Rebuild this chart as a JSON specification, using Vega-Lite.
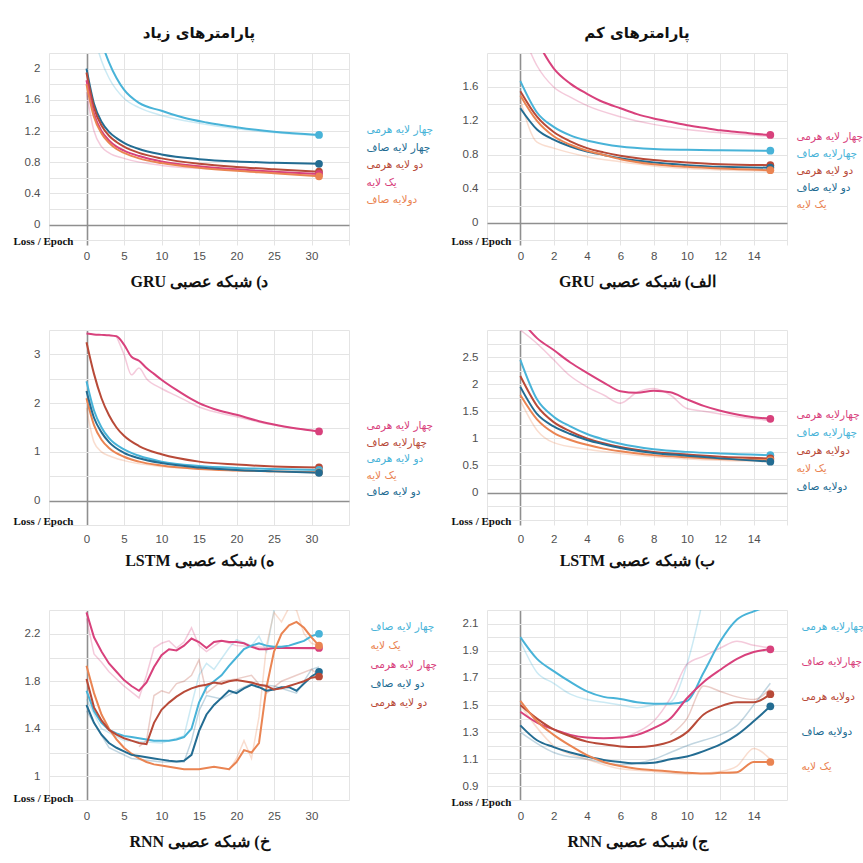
{
"$schema": "https://vega.github.io/schema/vega-lite/v6.json",
"background": "white",
"padding": {"left": 13, "top": 26, "right": 5, "bottom": 5},
"columns": 2,
"spacing": {"row": 85, "column": 138},
"bounds": "flush",
"resolve": {"scale": {"color": "independent", "x": "independent", "y": "independent"}, "legend": {"color": "independent"}},
"datasets": {
"gruH": [
{"run":"چهار لایه هرمی","kind":"smooth","epoch":0,"loss":3.3},{"run":"چهار لایه هرمی","kind":"smooth","epoch":1,"loss":2.75},{"run":"چهار لایه هرمی","kind":"smooth","epoch":2,"loss":2.35},{"run":"چهار لایه هرمی","kind":"smooth","epoch":3,"loss":2.08},{"run":"چهار لایه هرمی","kind":"smooth","epoch":4,"loss":1.88},{"run":"چهار لایه هرمی","kind":"smooth","epoch":5,"loss":1.73},{"run":"چهار لایه هرمی","kind":"smooth","epoch":7,"loss":1.56},{"run":"چهار لایه هرمی","kind":"smooth","epoch":10,"loss":1.46},{"run":"چهار لایه هرمی","kind":"smooth","epoch":13,"loss":1.37},{"run":"چهار لایه هرمی","kind":"smooth","epoch":16,"loss":1.31},{"run":"چهار لایه هرمی","kind":"smooth","epoch":20,"loss":1.25},{"run":"چهار لایه هرمی","kind":"smooth","epoch":25,"loss":1.19},{"run":"چهار لایه هرمی","kind":"smooth","epoch":31,"loss":1.15},
{"run":"چهار لایه هرمی","kind":"raw","epoch":0,"loss":3.0},{"run":"چهار لایه هرمی","kind":"raw","epoch":1,"loss":2.45},{"run":"چهار لایه هرمی","kind":"raw","epoch":2,"loss":2.1},{"run":"چهار لایه هرمی","kind":"raw","epoch":3,"loss":1.88},{"run":"چهار لایه هرمی","kind":"raw","epoch":5,"loss":1.62},{"run":"چهار لایه هرمی","kind":"raw","epoch":7,"loss":1.5},{"run":"چهار لایه هرمی","kind":"raw","epoch":10,"loss":1.4},{"run":"چهار لایه هرمی","kind":"raw","epoch":15,"loss":1.3},{"run":"چهار لایه هرمی","kind":"raw","epoch":20,"loss":1.23},{"run":"چهار لایه هرمی","kind":"raw","epoch":25,"loss":1.18},{"run":"چهار لایه هرمی","kind":"raw","epoch":31,"loss":1.14},
{"run":"چهار لایه صاف","kind":"smooth","epoch":0,"loss":2.0},{"run":"چهار لایه صاف","kind":"smooth","epoch":1,"loss":1.55},{"run":"چهار لایه صاف","kind":"smooth","epoch":2,"loss":1.32},{"run":"چهار لایه صاف","kind":"smooth","epoch":3,"loss":1.19},{"run":"چهار لایه صاف","kind":"smooth","epoch":4,"loss":1.11},{"run":"چهار لایه صاف","kind":"smooth","epoch":5,"loss":1.05},{"run":"چهار لایه صاف","kind":"smooth","epoch":7,"loss":0.97},{"run":"چهار لایه صاف","kind":"smooth","epoch":10,"loss":0.9},{"run":"چهار لایه صاف","kind":"smooth","epoch":15,"loss":0.84},{"run":"چهار لایه صاف","kind":"smooth","epoch":20,"loss":0.81},{"run":"چهار لایه صاف","kind":"smooth","epoch":25,"loss":0.795},{"run":"چهار لایه صاف","kind":"smooth","epoch":31,"loss":0.78},
{"run":"دو لایه هرمی","kind":"smooth","epoch":0,"loss":1.95},{"run":"دو لایه هرمی","kind":"smooth","epoch":1,"loss":1.5},{"run":"دو لایه هرمی","kind":"smooth","epoch":2,"loss":1.27},{"run":"دو لایه هرمی","kind":"smooth","epoch":3,"loss":1.14},{"run":"دو لایه هرمی","kind":"smooth","epoch":4,"loss":1.06},{"run":"دو لایه هرمی","kind":"smooth","epoch":5,"loss":1.0},{"run":"دو لایه هرمی","kind":"smooth","epoch":7,"loss":0.92},{"run":"دو لایه هرمی","kind":"smooth","epoch":10,"loss":0.85},{"run":"دو لایه هرمی","kind":"smooth","epoch":15,"loss":0.78},{"run":"دو لایه هرمی","kind":"smooth","epoch":20,"loss":0.74},{"run":"دو لایه هرمی","kind":"smooth","epoch":25,"loss":0.71},{"run":"دو لایه هرمی","kind":"smooth","epoch":31,"loss":0.68},
{"run":"یک لایه","kind":"smooth","epoch":0,"loss":1.85},{"run":"یک لایه","kind":"smooth","epoch":1,"loss":1.42},{"run":"یک لایه","kind":"smooth","epoch":2,"loss":1.2},{"run":"یک لایه","kind":"smooth","epoch":3,"loss":1.08},{"run":"یک لایه","kind":"smooth","epoch":4,"loss":1.0},{"run":"یک لایه","kind":"smooth","epoch":5,"loss":0.95},{"run":"یک لایه","kind":"smooth","epoch":7,"loss":0.88},{"run":"یک لایه","kind":"smooth","epoch":10,"loss":0.81},{"run":"یک لایه","kind":"smooth","epoch":15,"loss":0.75},{"run":"یک لایه","kind":"smooth","epoch":20,"loss":0.71},{"run":"یک لایه","kind":"smooth","epoch":25,"loss":0.68},{"run":"یک لایه","kind":"smooth","epoch":31,"loss":0.65},
{"run":"یک لایه","kind":"raw","epoch":0,"loss":1.7},{"run":"یک لایه","kind":"raw","epoch":1,"loss":1.2},{"run":"یک لایه","kind":"raw","epoch":2,"loss":1.0},{"run":"یک لایه","kind":"raw","epoch":3,"loss":0.92},{"run":"یک لایه","kind":"raw","epoch":5,"loss":0.85},{"run":"یک لایه","kind":"raw","epoch":10,"loss":0.76},{"run":"یک لایه","kind":"raw","epoch":20,"loss":0.7},{"run":"یک لایه","kind":"raw","epoch":31,"loss":0.63},
{"run":"دولایه صاف","kind":"smooth","epoch":0,"loss":1.8},{"run":"دولایه صاف","kind":"smooth","epoch":1,"loss":1.38},{"run":"دولایه صاف","kind":"smooth","epoch":2,"loss":1.17},{"run":"دولایه صاف","kind":"smooth","epoch":3,"loss":1.05},{"run":"دولایه صاف","kind":"smooth","epoch":4,"loss":0.97},{"run":"دولایه صاف","kind":"smooth","epoch":5,"loss":0.92},{"run":"دولایه صاف","kind":"smooth","epoch":7,"loss":0.85},{"run":"دولایه صاف","kind":"smooth","epoch":10,"loss":0.79},{"run":"دولایه صاف","kind":"smooth","epoch":15,"loss":0.73},{"run":"دولایه صاف","kind":"smooth","epoch":20,"loss":0.69},{"run":"دولایه صاف","kind":"smooth","epoch":25,"loss":0.66},{"run":"دولایه صاف","kind":"smooth","epoch":31,"loss":0.62}
],
"gruL": [
{"run":"چهار لایه هرمی","kind":"smooth","epoch":0,"loss":2.6},{"run":"چهار لایه هرمی","kind":"smooth","epoch":1,"loss":2.15},{"run":"چهار لایه هرمی","kind":"smooth","epoch":2,"loss":1.82},{"run":"چهار لایه هرمی","kind":"smooth","epoch":3,"loss":1.64},{"run":"چهار لایه هرمی","kind":"smooth","epoch":4,"loss":1.52},{"run":"چهار لایه هرمی","kind":"smooth","epoch":5,"loss":1.42},{"run":"چهار لایه هرمی","kind":"smooth","epoch":6,"loss":1.35},{"run":"چهار لایه هرمی","kind":"smooth","epoch":7,"loss":1.28},{"run":"چهار لایه هرمی","kind":"smooth","epoch":8,"loss":1.23},{"run":"چهار لایه هرمی","kind":"smooth","epoch":9,"loss":1.19},{"run":"چهار لایه هرمی","kind":"smooth","epoch":10,"loss":1.15},{"run":"چهار لایه هرمی","kind":"smooth","epoch":11,"loss":1.12},{"run":"چهار لایه هرمی","kind":"smooth","epoch":12,"loss":1.09},{"run":"چهار لایه هرمی","kind":"smooth","epoch":13,"loss":1.07},{"run":"چهار لایه هرمی","kind":"smooth","epoch":14,"loss":1.05},{"run":"چهار لایه هرمی","kind":"smooth","epoch":15,"loss":1.035},
{"run":"چهار لایه هرمی","kind":"raw","epoch":0,"loss":2.3},{"run":"چهار لایه هرمی","kind":"raw","epoch":1,"loss":1.85},{"run":"چهار لایه هرمی","kind":"raw","epoch":2,"loss":1.6},{"run":"چهار لایه هرمی","kind":"raw","epoch":3,"loss":1.48},{"run":"چهار لایه هرمی","kind":"raw","epoch":4,"loss":1.38},{"run":"چهار لایه هرمی","kind":"raw","epoch":6,"loss":1.25},{"run":"چهار لایه هرمی","kind":"raw","epoch":8,"loss":1.16},{"run":"چهار لایه هرمی","kind":"raw","epoch":10,"loss":1.1},{"run":"چهار لایه هرمی","kind":"raw","epoch":12,"loss":1.06},{"run":"چهار لایه هرمی","kind":"raw","epoch":15,"loss":1.02},
{"run":"چهارلایه صاف","kind":"smooth","epoch":0,"loss":1.67},{"run":"چهارلایه صاف","kind":"smooth","epoch":1,"loss":1.3},{"run":"چهارلایه صاف","kind":"smooth","epoch":2,"loss":1.13},{"run":"چهارلایه صاف","kind":"smooth","epoch":3,"loss":1.03},{"run":"چهارلایه صاف","kind":"smooth","epoch":4,"loss":0.97},{"run":"چهارلایه صاف","kind":"smooth","epoch":5,"loss":0.93},{"run":"چهارلایه صاف","kind":"smooth","epoch":6,"loss":0.9},{"run":"چهارلایه صاف","kind":"smooth","epoch":8,"loss":0.87},{"run":"چهارلایه صاف","kind":"smooth","epoch":10,"loss":0.86},{"run":"چهارلایه صاف","kind":"smooth","epoch":12,"loss":0.855},{"run":"چهارلایه صاف","kind":"smooth","epoch":15,"loss":0.85},
{"run":"دو لایه هرمی","kind":"smooth","epoch":0,"loss":1.55},{"run":"دو لایه هرمی","kind":"smooth","epoch":1,"loss":1.25},{"run":"دو لایه هرمی","kind":"smooth","epoch":2,"loss":1.07},{"run":"دو لایه هرمی","kind":"smooth","epoch":3,"loss":0.96},{"run":"دو لایه هرمی","kind":"smooth","epoch":4,"loss":0.88},{"run":"دو لایه هرمی","kind":"smooth","epoch":5,"loss":0.83},{"run":"دو لایه هرمی","kind":"smooth","epoch":6,"loss":0.79},{"run":"دو لایه هرمی","kind":"smooth","epoch":8,"loss":0.74},{"run":"دو لایه هرمی","kind":"smooth","epoch":10,"loss":0.71},{"run":"دو لایه هرمی","kind":"smooth","epoch":12,"loss":0.69},{"run":"دو لایه هرمی","kind":"smooth","epoch":15,"loss":0.68},
{"run":"دو لایه صاف","kind":"smooth","epoch":0,"loss":1.35},{"run":"دو لایه صاف","kind":"smooth","epoch":1,"loss":1.1},{"run":"دو لایه صاف","kind":"smooth","epoch":2,"loss":0.98},{"run":"دو لایه صاف","kind":"smooth","epoch":3,"loss":0.9},{"run":"دو لایه صاف","kind":"smooth","epoch":4,"loss":0.84},{"run":"دو لایه صاف","kind":"smooth","epoch":5,"loss":0.8},{"run":"دو لایه صاف","kind":"smooth","epoch":6,"loss":0.76},{"run":"دو لایه صاف","kind":"smooth","epoch":8,"loss":0.71},{"run":"دو لایه صاف","kind":"smooth","epoch":10,"loss":0.68},{"run":"دو لایه صاف","kind":"smooth","epoch":12,"loss":0.66},{"run":"دو لایه صاف","kind":"smooth","epoch":15,"loss":0.65},
{"run":"یک لایه","kind":"smooth","epoch":0,"loss":1.5},{"run":"یک لایه","kind":"smooth","epoch":1,"loss":1.2},{"run":"یک لایه","kind":"smooth","epoch":2,"loss":1.02},{"run":"یک لایه","kind":"smooth","epoch":3,"loss":0.92},{"run":"یک لایه","kind":"smooth","epoch":4,"loss":0.85},{"run":"یک لایه","kind":"smooth","epoch":5,"loss":0.8},{"run":"یک لایه","kind":"smooth","epoch":6,"loss":0.75},{"run":"یک لایه","kind":"smooth","epoch":8,"loss":0.69},{"run":"یک لایه","kind":"smooth","epoch":10,"loss":0.66},{"run":"یک لایه","kind":"smooth","epoch":12,"loss":0.64},{"run":"یک لایه","kind":"smooth","epoch":15,"loss":0.62},
{"run":"یک لایه","kind":"raw","epoch":0,"loss":1.45},{"run":"یک لایه","kind":"raw","epoch":1,"loss":0.95},{"run":"یک لایه","kind":"raw","epoch":2,"loss":0.88},{"run":"یک لایه","kind":"raw","epoch":4,"loss":0.78},{"run":"یک لایه","kind":"raw","epoch":6,"loss":0.72},{"run":"یک لایه","kind":"raw","epoch":8,"loss":0.67},{"run":"یک لایه","kind":"raw","epoch":10,"loss":0.64},{"run":"یک لایه","kind":"raw","epoch":15,"loss":0.61}
],
"lstmH": [
{"run":"چهار لایه هرمی","kind":"smooth","epoch":0,"loss":3.43},{"run":"چهار لایه هرمی","kind":"smooth","epoch":1,"loss":3.41},{"run":"چهار لایه هرمی","kind":"smooth","epoch":2,"loss":3.4},{"run":"چهار لایه هرمی","kind":"smooth","epoch":3,"loss":3.39},{"run":"چهار لایه هرمی","kind":"smooth","epoch":4,"loss":3.37},{"run":"چهار لایه هرمی","kind":"smooth","epoch":5,"loss":3.2},{"run":"چهار لایه هرمی","kind":"smooth","epoch":6,"loss":2.95},{"run":"چهار لایه هرمی","kind":"smooth","epoch":7,"loss":2.87},{"run":"چهار لایه هرمی","kind":"smooth","epoch":8,"loss":2.72},{"run":"چهار لایه هرمی","kind":"smooth","epoch":9,"loss":2.6},{"run":"چهار لایه هرمی","kind":"smooth","epoch":10,"loss":2.48},{"run":"چهار لایه هرمی","kind":"smooth","epoch":12,"loss":2.27},{"run":"چهار لایه هرمی","kind":"smooth","epoch":14,"loss":2.08},{"run":"چهار لایه هرمی","kind":"smooth","epoch":15,"loss":2.0},{"run":"چهار لایه هرمی","kind":"smooth","epoch":17,"loss":1.88},{"run":"چهار لایه هرمی","kind":"smooth","epoch":20,"loss":1.76},{"run":"چهار لایه هرمی","kind":"smooth","epoch":23,"loss":1.63},{"run":"چهار لایه هرمی","kind":"smooth","epoch":25,"loss":1.56},{"run":"چهار لایه هرمی","kind":"smooth","epoch":28,"loss":1.48},{"run":"چهار لایه هرمی","kind":"smooth","epoch":31,"loss":1.42},
{"run":"چهار لایه هرمی","kind":"raw","epoch":4,"loss":3.37},{"run":"چهار لایه هرمی","kind":"raw","epoch":5,"loss":3.0},{"run":"چهار لایه هرمی","kind":"raw","epoch":6,"loss":2.58},{"run":"چهار لایه هرمی","kind":"raw","epoch":7,"loss":2.72},{"run":"چهار لایه هرمی","kind":"raw","epoch":8,"loss":2.5},{"run":"چهار لایه هرمی","kind":"raw","epoch":10,"loss":2.3},{"run":"چهار لایه هرمی","kind":"raw","epoch":12,"loss":2.15},{"run":"چهار لایه هرمی","kind":"raw","epoch":15,"loss":1.92},{"run":"چهار لایه هرمی","kind":"raw","epoch":20,"loss":1.72},{"run":"چهار لایه هرمی","kind":"raw","epoch":25,"loss":1.55},{"run":"چهار لایه هرمی","kind":"raw","epoch":31,"loss":1.42},
{"run":"چهارلایه صاف","kind":"smooth","epoch":0,"loss":3.25},{"run":"چهارلایه صاف","kind":"smooth","epoch":1,"loss":2.6},{"run":"چهارلایه صاف","kind":"smooth","epoch":2,"loss":2.1},{"run":"چهارلایه صاف","kind":"smooth","epoch":3,"loss":1.75},{"run":"چهارلایه صاف","kind":"smooth","epoch":4,"loss":1.5},{"run":"چهارلایه صاف","kind":"smooth","epoch":5,"loss":1.33},{"run":"چهارلایه صاف","kind":"smooth","epoch":7,"loss":1.12},{"run":"چهارلایه صاف","kind":"smooth","epoch":10,"loss":0.95},{"run":"چهارلایه صاف","kind":"smooth","epoch":15,"loss":0.8},{"run":"چهارلایه صاف","kind":"smooth","epoch":20,"loss":0.74},{"run":"چهارلایه صاف","kind":"smooth","epoch":25,"loss":0.7},{"run":"چهارلایه صاف","kind":"smooth","epoch":31,"loss":0.68},
{"run":"دو لایه هرمی","kind":"smooth","epoch":0,"loss":2.45},{"run":"دو لایه هرمی","kind":"smooth","epoch":1,"loss":1.85},{"run":"دو لایه هرمی","kind":"smooth","epoch":2,"loss":1.5},{"run":"دو لایه هرمی","kind":"smooth","epoch":3,"loss":1.28},{"run":"دو لایه هرمی","kind":"smooth","epoch":5,"loss":1.05},{"run":"دو لایه هرمی","kind":"smooth","epoch":7,"loss":0.92},{"run":"دو لایه هرمی","kind":"smooth","epoch":10,"loss":0.8},{"run":"دو لایه هرمی","kind":"smooth","epoch":15,"loss":0.71},{"run":"دو لایه هرمی","kind":"smooth","epoch":20,"loss":0.67},{"run":"دو لایه هرمی","kind":"smooth","epoch":25,"loss":0.65},{"run":"دو لایه هرمی","kind":"smooth","epoch":31,"loss":0.63},
{"run":"یک لایه","kind":"smooth","epoch":0,"loss":2.1},{"run":"یک لایه","kind":"smooth","epoch":1,"loss":1.55},{"run":"یک لایه","kind":"smooth","epoch":2,"loss":1.25},{"run":"یک لایه","kind":"smooth","epoch":3,"loss":1.08},{"run":"یک لایه","kind":"smooth","epoch":5,"loss":0.9},{"run":"یک لایه","kind":"smooth","epoch":7,"loss":0.8},{"run":"یک لایه","kind":"smooth","epoch":10,"loss":0.72},{"run":"یک لایه","kind":"smooth","epoch":15,"loss":0.65},{"run":"یک لایه","kind":"smooth","epoch":20,"loss":0.62},{"run":"یک لایه","kind":"smooth","epoch":25,"loss":0.6},{"run":"یک لایه","kind":"smooth","epoch":31,"loss":0.58},
{"run":"یک لایه","kind":"raw","epoch":0,"loss":1.9},{"run":"یک لایه","kind":"raw","epoch":1,"loss":1.2},{"run":"یک لایه","kind":"raw","epoch":2,"loss":1.0},{"run":"یک لایه","kind":"raw","epoch":3,"loss":0.92},{"run":"یک لایه","kind":"raw","epoch":5,"loss":0.82},{"run":"یک لایه","kind":"raw","epoch":10,"loss":0.7},{"run":"یک لایه","kind":"raw","epoch":20,"loss":0.62},{"run":"یک لایه","kind":"raw","epoch":31,"loss":0.57},
{"run":"دو لایه صاف","kind":"smooth","epoch":0,"loss":2.25},{"run":"دو لایه صاف","kind":"smooth","epoch":1,"loss":1.7},{"run":"دو لایه صاف","kind":"smooth","epoch":2,"loss":1.4},{"run":"دو لایه صاف","kind":"smooth","epoch":3,"loss":1.2},{"run":"دو لایه صاف","kind":"smooth","epoch":5,"loss":0.98},{"run":"دو لایه صاف","kind":"smooth","epoch":7,"loss":0.87},{"run":"دو لایه صاف","kind":"smooth","epoch":10,"loss":0.77},{"run":"دو لایه صاف","kind":"smooth","epoch":15,"loss":0.68},{"run":"دو لایه صاف","kind":"smooth","epoch":20,"loss":0.63},{"run":"دو لایه صاف","kind":"smooth","epoch":25,"loss":0.6},{"run":"دو لایه صاف","kind":"smooth","epoch":31,"loss":0.57}
],
"lstmL": [
{"run":"چهارلایه هرمی","kind":"smooth","epoch":0,"loss":3.2},{"run":"چهارلایه هرمی","kind":"smooth","epoch":1,"loss":2.85},{"run":"چهارلایه هرمی","kind":"smooth","epoch":2,"loss":2.63},{"run":"چهارلایه هرمی","kind":"smooth","epoch":3,"loss":2.4},{"run":"چهارلایه هرمی","kind":"smooth","epoch":4,"loss":2.21},{"run":"چهارلایه هرمی","kind":"smooth","epoch":5,"loss":2.03},{"run":"چهارلایه هرمی","kind":"smooth","epoch":6,"loss":1.87},{"run":"چهارلایه هرمی","kind":"smooth","epoch":7,"loss":1.84},{"run":"چهارلایه هرمی","kind":"smooth","epoch":8,"loss":1.88},{"run":"چهارلایه هرمی","kind":"smooth","epoch":9,"loss":1.85},{"run":"چهارلایه هرمی","kind":"smooth","epoch":10,"loss":1.72},{"run":"چهارلایه هرمی","kind":"smooth","epoch":11,"loss":1.6},{"run":"چهارلایه هرمی","kind":"smooth","epoch":12,"loss":1.51},{"run":"چهارلایه هرمی","kind":"smooth","epoch":13,"loss":1.44},{"run":"چهارلایه هرمی","kind":"smooth","epoch":14,"loss":1.39},{"run":"چهارلایه هرمی","kind":"smooth","epoch":15,"loss":1.36},
{"run":"چهارلایه هرمی","kind":"raw","epoch":0,"loss":3.0},{"run":"چهارلایه هرمی","kind":"raw","epoch":1,"loss":2.75},{"run":"چهارلایه هرمی","kind":"raw","epoch":2,"loss":2.45},{"run":"چهارلایه هرمی","kind":"raw","epoch":3,"loss":2.15},{"run":"چهارلایه هرمی","kind":"raw","epoch":4,"loss":1.95},{"run":"چهارلایه هرمی","kind":"raw","epoch":5,"loss":1.8},{"run":"چهارلایه هرمی","kind":"raw","epoch":6,"loss":1.65},{"run":"چهارلایه هرمی","kind":"raw","epoch":7,"loss":1.85},{"run":"چهارلایه هرمی","kind":"raw","epoch":8,"loss":1.92},{"run":"چهارلایه هرمی","kind":"raw","epoch":9,"loss":1.8},{"run":"چهارلایه هرمی","kind":"raw","epoch":10,"loss":1.55},{"run":"چهارلایه هرمی","kind":"raw","epoch":11,"loss":1.5},{"run":"چهارلایه هرمی","kind":"raw","epoch":12,"loss":1.45},{"run":"چهارلایه هرمی","kind":"raw","epoch":13,"loss":1.4},{"run":"چهارلایه هرمی","kind":"raw","epoch":15,"loss":1.33},
{"run":"چهارلایه صاف","kind":"smooth","epoch":0,"loss":2.45},{"run":"چهارلایه صاف","kind":"smooth","epoch":1,"loss":1.72},{"run":"چهارلایه صاف","kind":"smooth","epoch":2,"loss":1.4},{"run":"چهارلایه صاف","kind":"smooth","epoch":3,"loss":1.22},{"run":"چهارلایه صاف","kind":"smooth","epoch":4,"loss":1.08},{"run":"چهارلایه صاف","kind":"smooth","epoch":5,"loss":0.98},{"run":"چهارلایه صاف","kind":"smooth","epoch":6,"loss":0.9},{"run":"چهارلایه صاف","kind":"smooth","epoch":8,"loss":0.8},{"run":"چهارلایه صاف","kind":"smooth","epoch":10,"loss":0.75},{"run":"چهارلایه صاف","kind":"smooth","epoch":12,"loss":0.72},{"run":"چهارلایه صاف","kind":"smooth","epoch":15,"loss":0.69},
{"run":"دولایه هرمی","kind":"smooth","epoch":0,"loss":2.15},{"run":"دولایه هرمی","kind":"smooth","epoch":1,"loss":1.6},{"run":"دولایه هرمی","kind":"smooth","epoch":2,"loss":1.3},{"run":"دولایه هرمی","kind":"smooth","epoch":3,"loss":1.13},{"run":"دولایه هرمی","kind":"smooth","epoch":4,"loss":1.0},{"run":"دولایه هرمی","kind":"smooth","epoch":5,"loss":0.91},{"run":"دولایه هرمی","kind":"smooth","epoch":6,"loss":0.84},{"run":"دولایه هرمی","kind":"smooth","epoch":8,"loss":0.75},{"run":"دولایه هرمی","kind":"smooth","epoch":10,"loss":0.7},{"run":"دولایه هرمی","kind":"smooth","epoch":12,"loss":0.66},{"run":"دولایه هرمی","kind":"smooth","epoch":15,"loss":0.63},
{"run":"یک لایه","kind":"smooth","epoch":0,"loss":1.8},{"run":"یک لایه","kind":"smooth","epoch":1,"loss":1.35},{"run":"یک لایه","kind":"smooth","epoch":2,"loss":1.1},{"run":"یک لایه","kind":"smooth","epoch":3,"loss":0.97},{"run":"یک لایه","kind":"smooth","epoch":4,"loss":0.88},{"run":"یک لایه","kind":"smooth","epoch":5,"loss":0.81},{"run":"یک لایه","kind":"smooth","epoch":6,"loss":0.76},{"run":"یک لایه","kind":"smooth","epoch":8,"loss":0.69},{"run":"یک لایه","kind":"smooth","epoch":10,"loss":0.65},{"run":"یک لایه","kind":"smooth","epoch":12,"loss":0.62},{"run":"یک لایه","kind":"smooth","epoch":15,"loss":0.6},
{"run":"یک لایه","kind":"raw","epoch":0,"loss":1.7},{"run":"یک لایه","kind":"raw","epoch":1,"loss":1.15},{"run":"یک لایه","kind":"raw","epoch":2,"loss":0.92},{"run":"یک لایه","kind":"raw","epoch":4,"loss":0.8},{"run":"یک لایه","kind":"raw","epoch":6,"loss":0.72},{"run":"یک لایه","kind":"raw","epoch":8,"loss":0.66},{"run":"یک لایه","kind":"raw","epoch":10,"loss":0.62},{"run":"یک لایه","kind":"raw","epoch":15,"loss":0.57},
{"run":"دولایه صاف","kind":"smooth","epoch":0,"loss":1.95},{"run":"دولایه صاف","kind":"smooth","epoch":1,"loss":1.45},{"run":"دولایه صاف","kind":"smooth","epoch":2,"loss":1.22},{"run":"دولایه صاف","kind":"smooth","epoch":3,"loss":1.08},{"run":"دولایه صاف","kind":"smooth","epoch":4,"loss":0.97},{"run":"دولایه صاف","kind":"smooth","epoch":5,"loss":0.89},{"run":"دولایه صاف","kind":"smooth","epoch":6,"loss":0.82},{"run":"دولایه صاف","kind":"smooth","epoch":8,"loss":0.73},{"run":"دولایه صاف","kind":"smooth","epoch":10,"loss":0.68},{"run":"دولایه صاف","kind":"smooth","epoch":12,"loss":0.63},{"run":"دولایه صاف","kind":"smooth","epoch":15,"loss":0.57}
],
"rnnH": [
{"run":"چهار لایه هرمی","kind":"smooth","epoch":0,"loss":2.38},{"run":"چهار لایه هرمی","kind":"smooth","epoch":1,"loss":2.17},{"run":"چهار لایه هرمی","kind":"smooth","epoch":2,"loss":2.05},{"run":"چهار لایه هرمی","kind":"smooth","epoch":3,"loss":1.95},{"run":"چهار لایه هرمی","kind":"smooth","epoch":4,"loss":1.88},{"run":"چهار لایه هرمی","kind":"smooth","epoch":5,"loss":1.81},{"run":"چهار لایه هرمی","kind":"smooth","epoch":6,"loss":1.76},{"run":"چهار لایه هرمی","kind":"smooth","epoch":7,"loss":1.72},{"run":"چهار لایه هرمی","kind":"smooth","epoch":8,"loss":1.79},{"run":"چهار لایه هرمی","kind":"smooth","epoch":9,"loss":1.92},{"run":"چهار لایه هرمی","kind":"smooth","epoch":10,"loss":2.02},{"run":"چهار لایه هرمی","kind":"smooth","epoch":11,"loss":2.07},{"run":"چهار لایه هرمی","kind":"smooth","epoch":12,"loss":2.06},{"run":"چهار لایه هرمی","kind":"smooth","epoch":13,"loss":2.1},{"run":"چهار لایه هرمی","kind":"smooth","epoch":14,"loss":2.16},{"run":"چهار لایه هرمی","kind":"smooth","epoch":15,"loss":2.13},{"run":"چهار لایه هرمی","kind":"smooth","epoch":16,"loss":2.08},{"run":"چهار لایه هرمی","kind":"smooth","epoch":17,"loss":2.13},{"run":"چهار لایه هرمی","kind":"smooth","epoch":18,"loss":2.14},{"run":"چهار لایه هرمی","kind":"smooth","epoch":19,"loss":2.13},{"run":"چهار لایه هرمی","kind":"smooth","epoch":20,"loss":2.13},{"run":"چهار لایه هرمی","kind":"smooth","epoch":21,"loss":2.12},{"run":"چهار لایه هرمی","kind":"smooth","epoch":22,"loss":2.09},{"run":"چهار لایه هرمی","kind":"smooth","epoch":23,"loss":2.07},{"run":"چهار لایه هرمی","kind":"smooth","epoch":24,"loss":2.07},{"run":"چهار لایه هرمی","kind":"smooth","epoch":25,"loss":2.08},{"run":"چهار لایه هرمی","kind":"smooth","epoch":26,"loss":2.08},{"run":"چهار لایه هرمی","kind":"smooth","epoch":27,"loss":2.08},{"run":"چهار لایه هرمی","kind":"smooth","epoch":28,"loss":2.08},{"run":"چهار لایه هرمی","kind":"smooth","epoch":29,"loss":2.08},{"run":"چهار لایه هرمی","kind":"smooth","epoch":30,"loss":2.08},{"run":"چهار لایه هرمی","kind":"smooth","epoch":31,"loss":2.08},
{"run":"چهار لایه هرمی","kind":"raw","epoch":0,"loss":2.33},{"run":"چهار لایه هرمی","kind":"raw","epoch":1,"loss":2.03},{"run":"چهار لایه هرمی","kind":"raw","epoch":2,"loss":1.96},{"run":"چهار لایه هرمی","kind":"raw","epoch":3,"loss":1.88},{"run":"چهار لایه هرمی","kind":"raw","epoch":5,"loss":1.76},{"run":"چهار لایه هرمی","kind":"raw","epoch":7,"loss":1.66},{"run":"چهار لایه هرمی","kind":"raw","epoch":8,"loss":1.85},{"run":"چهار لایه هرمی","kind":"raw","epoch":9,"loss":2.08},{"run":"چهار لایه هرمی","kind":"raw","epoch":10,"loss":2.12},{"run":"چهار لایه هرمی","kind":"raw","epoch":11,"loss":2.14},{"run":"چهار لایه هرمی","kind":"raw","epoch":12,"loss":2.08},{"run":"چهار لایه هرمی","kind":"raw","epoch":13,"loss":2.13},{"run":"چهار لایه هرمی","kind":"raw","epoch":14,"loss":2.25},{"run":"چهار لایه هرمی","kind":"raw","epoch":15,"loss":2.1},{"run":"چهار لایه هرمی","kind":"raw","epoch":16,"loss":2.05},{"run":"چهار لایه هرمی","kind":"raw","epoch":18,"loss":2.14},{"run":"چهار لایه هرمی","kind":"raw","epoch":20,"loss":2.1},{"run":"چهار لایه هرمی","kind":"raw","epoch":25,"loss":2.08},{"run":"چهار لایه هرمی","kind":"raw","epoch":31,"loss":2.07},
{"run":"چهار لایه صاف","kind":"smooth","epoch":0,"loss":1.72},{"run":"چهار لایه صاف","kind":"smooth","epoch":1,"loss":1.55},{"run":"چهار لایه صاف","kind":"smooth","epoch":2,"loss":1.45},{"run":"چهار لایه صاف","kind":"smooth","epoch":3,"loss":1.39},{"run":"چهار لایه صاف","kind":"smooth","epoch":4,"loss":1.36},{"run":"چهار لایه صاف","kind":"smooth","epoch":5,"loss":1.34},{"run":"چهار لایه صاف","kind":"smooth","epoch":6,"loss":1.33},{"run":"چهار لایه صاف","kind":"smooth","epoch":7,"loss":1.32},{"run":"چهار لایه صاف","kind":"smooth","epoch":8,"loss":1.31},{"run":"چهار لایه صاف","kind":"smooth","epoch":9,"loss":1.3},{"run":"چهار لایه صاف","kind":"smooth","epoch":10,"loss":1.3},{"run":"چهار لایه صاف","kind":"smooth","epoch":11,"loss":1.3},{"run":"چهار لایه صاف","kind":"smooth","epoch":12,"loss":1.31},{"run":"چهار لایه صاف","kind":"smooth","epoch":13,"loss":1.33},{"run":"چهار لایه صاف","kind":"smooth","epoch":14,"loss":1.4},{"run":"چهار لایه صاف","kind":"smooth","epoch":15,"loss":1.62},{"run":"چهار لایه صاف","kind":"smooth","epoch":16,"loss":1.75},{"run":"چهار لایه صاف","kind":"smooth","epoch":17,"loss":1.8},{"run":"چهار لایه صاف","kind":"smooth","epoch":18,"loss":1.85},{"run":"چهار لایه صاف","kind":"smooth","epoch":19,"loss":1.93},{"run":"چهار لایه صاف","kind":"smooth","epoch":20,"loss":2.0},{"run":"چهار لایه صاف","kind":"smooth","epoch":21,"loss":2.07},{"run":"چهار لایه صاف","kind":"smooth","epoch":22,"loss":2.1},{"run":"چهار لایه صاف","kind":"smooth","epoch":23,"loss":2.12},{"run":"چهار لایه صاف","kind":"smooth","epoch":24,"loss":2.1},{"run":"چهار لایه صاف","kind":"smooth","epoch":25,"loss":2.09},{"run":"چهار لایه صاف","kind":"smooth","epoch":26,"loss":2.09},{"run":"چهار لایه صاف","kind":"smooth","epoch":27,"loss":2.1},{"run":"چهار لایه صاف","kind":"smooth","epoch":28,"loss":2.12},{"run":"چهار لایه صاف","kind":"smooth","epoch":29,"loss":2.14},{"run":"چهار لایه صاف","kind":"smooth","epoch":30,"loss":2.18},{"run":"چهار لایه صاف","kind":"smooth","epoch":31,"loss":2.2},
{"run":"چهار لایه صاف","kind":"raw","epoch":0,"loss":1.65},{"run":"چهار لایه صاف","kind":"raw","epoch":2,"loss":1.4},{"run":"چهار لایه صاف","kind":"raw","epoch":5,"loss":1.3},{"run":"چهار لایه صاف","kind":"raw","epoch":10,"loss":1.28},{"run":"چهار لایه صاف","kind":"raw","epoch":13,"loss":1.34},{"run":"چهار لایه صاف","kind":"raw","epoch":14,"loss":1.6},{"run":"چهار لایه صاف","kind":"raw","epoch":15,"loss":1.85},{"run":"چهار لایه صاف","kind":"raw","epoch":16,"loss":1.95},{"run":"چهار لایه صاف","kind":"raw","epoch":17,"loss":1.9},{"run":"چهار لایه صاف","kind":"raw","epoch":19,"loss":2.08},{"run":"چهار لایه صاف","kind":"raw","epoch":20,"loss":2.15},{"run":"چهار لایه صاف","kind":"raw","epoch":22,"loss":2.1},{"run":"چهار لایه صاف","kind":"raw","epoch":23,"loss":2.18},{"run":"چهار لایه صاف","kind":"raw","epoch":24,"loss":2.05},{"run":"چهار لایه صاف","kind":"raw","epoch":25,"loss":2.4},
{"run":"یک لایه","kind":"smooth","epoch":0,"loss":1.93},{"run":"یک لایه","kind":"smooth","epoch":1,"loss":1.7},{"run":"یک لایه","kind":"smooth","epoch":2,"loss":1.52},{"run":"یک لایه","kind":"smooth","epoch":3,"loss":1.4},{"run":"یک لایه","kind":"smooth","epoch":4,"loss":1.31},{"run":"یک لایه","kind":"smooth","epoch":5,"loss":1.24},{"run":"یک لایه","kind":"smooth","epoch":6,"loss":1.19},{"run":"یک لایه","kind":"smooth","epoch":7,"loss":1.15},{"run":"یک لایه","kind":"smooth","epoch":8,"loss":1.12},{"run":"یک لایه","kind":"smooth","epoch":9,"loss":1.1},{"run":"یک لایه","kind":"smooth","epoch":10,"loss":1.09},{"run":"یک لایه","kind":"smooth","epoch":11,"loss":1.08},{"run":"یک لایه","kind":"smooth","epoch":12,"loss":1.07},{"run":"یک لایه","kind":"smooth","epoch":13,"loss":1.06},{"run":"یک لایه","kind":"smooth","epoch":14,"loss":1.06},{"run":"یک لایه","kind":"smooth","epoch":15,"loss":1.06},{"run":"یک لایه","kind":"smooth","epoch":16,"loss":1.07},{"run":"یک لایه","kind":"smooth","epoch":17,"loss":1.08},{"run":"یک لایه","kind":"smooth","epoch":18,"loss":1.07},{"run":"یک لایه","kind":"smooth","epoch":19,"loss":1.06},{"run":"یک لایه","kind":"smooth","epoch":20,"loss":1.12},{"run":"یک لایه","kind":"smooth","epoch":21,"loss":1.22},{"run":"یک لایه","kind":"smooth","epoch":22,"loss":1.2},{"run":"یک لایه","kind":"smooth","epoch":23,"loss":1.28},{"run":"یک لایه","kind":"smooth","epoch":24,"loss":1.75},{"run":"یک لایه","kind":"smooth","epoch":25,"loss":2.05},{"run":"یک لایه","kind":"smooth","epoch":26,"loss":2.2},{"run":"یک لایه","kind":"smooth","epoch":27,"loss":2.27},{"run":"یک لایه","kind":"smooth","epoch":28,"loss":2.3},{"run":"یک لایه","kind":"smooth","epoch":29,"loss":2.25},{"run":"یک لایه","kind":"smooth","epoch":30,"loss":2.17},{"run":"یک لایه","kind":"smooth","epoch":31,"loss":2.1},
{"run":"یک لایه","kind":"raw","epoch":19,"loss":1.05},{"run":"یک لایه","kind":"raw","epoch":20,"loss":1.15},{"run":"یک لایه","kind":"raw","epoch":21,"loss":1.3},{"run":"یک لایه","kind":"raw","epoch":22,"loss":1.15},{"run":"یک لایه","kind":"raw","epoch":23,"loss":1.5},{"run":"یک لایه","kind":"raw","epoch":24,"loss":2.1},{"run":"یک لایه","kind":"raw","epoch":25,"loss":2.38},{"run":"یک لایه","kind":"raw","epoch":26,"loss":2.3},{"run":"یک لایه","kind":"raw","epoch":27,"loss":2.42},{"run":"یک لایه","kind":"raw","epoch":28,"loss":2.4},{"run":"یک لایه","kind":"raw","epoch":29,"loss":2.2},{"run":"یک لایه","kind":"raw","epoch":30,"loss":2.12},{"run":"یک لایه","kind":"raw","epoch":31,"loss":2.1},
{"run":"دو لایه صاف","kind":"smooth","epoch":0,"loss":1.6},{"run":"دو لایه صاف","kind":"smooth","epoch":1,"loss":1.45},{"run":"دو لایه صاف","kind":"smooth","epoch":2,"loss":1.35},{"run":"دو لایه صاف","kind":"smooth","epoch":3,"loss":1.28},{"run":"دو لایه صاف","kind":"smooth","epoch":4,"loss":1.24},{"run":"دو لایه صاف","kind":"smooth","epoch":5,"loss":1.21},{"run":"دو لایه صاف","kind":"smooth","epoch":6,"loss":1.18},{"run":"دو لایه صاف","kind":"smooth","epoch":7,"loss":1.17},{"run":"دو لایه صاف","kind":"smooth","epoch":8,"loss":1.16},{"run":"دو لایه صاف","kind":"smooth","epoch":9,"loss":1.15},{"run":"دو لایه صاف","kind":"smooth","epoch":10,"loss":1.14},{"run":"دو لایه صاف","kind":"smooth","epoch":11,"loss":1.13},{"run":"دو لایه صاف","kind":"smooth","epoch":12,"loss":1.125},{"run":"دو لایه صاف","kind":"smooth","epoch":13,"loss":1.13},{"run":"دو لایه صاف","kind":"smooth","epoch":14,"loss":1.18},{"run":"دو لایه صاف","kind":"smooth","epoch":15,"loss":1.38},{"run":"دو لایه صاف","kind":"smooth","epoch":16,"loss":1.52},{"run":"دو لایه صاف","kind":"smooth","epoch":17,"loss":1.6},{"run":"دو لایه صاف","kind":"smooth","epoch":18,"loss":1.66},{"run":"دو لایه صاف","kind":"smooth","epoch":19,"loss":1.72},{"run":"دو لایه صاف","kind":"smooth","epoch":20,"loss":1.7},{"run":"دو لایه صاف","kind":"smooth","epoch":21,"loss":1.74},{"run":"دو لایه صاف","kind":"smooth","epoch":22,"loss":1.77},{"run":"دو لایه صاف","kind":"smooth","epoch":23,"loss":1.75},{"run":"دو لایه صاف","kind":"smooth","epoch":24,"loss":1.72},{"run":"دو لایه صاف","kind":"smooth","epoch":25,"loss":1.73},{"run":"دو لایه صاف","kind":"smooth","epoch":26,"loss":1.75},{"run":"دو لایه صاف","kind":"smooth","epoch":27,"loss":1.75},{"run":"دو لایه صاف","kind":"smooth","epoch":28,"loss":1.72},{"run":"دو لایه صاف","kind":"smooth","epoch":29,"loss":1.78},{"run":"دو لایه صاف","kind":"smooth","epoch":30,"loss":1.84},{"run":"دو لایه صاف","kind":"smooth","epoch":31,"loss":1.88},
{"run":"دو لایه صاف","kind":"raw","epoch":0,"loss":1.55},{"run":"دو لایه صاف","kind":"raw","epoch":3,"loss":1.24},{"run":"دو لایه صاف","kind":"raw","epoch":6,"loss":1.15},{"run":"دو لایه صاف","kind":"raw","epoch":10,"loss":1.12},{"run":"دو لایه صاف","kind":"raw","epoch":13,"loss":1.12},{"run":"دو لایه صاف","kind":"raw","epoch":14,"loss":1.3},{"run":"دو لایه صاف","kind":"raw","epoch":15,"loss":1.55},{"run":"دو لایه صاف","kind":"raw","epoch":16,"loss":1.68},{"run":"دو لایه صاف","kind":"raw","epoch":18,"loss":1.65},{"run":"دو لایه صاف","kind":"raw","epoch":20,"loss":1.72},{"run":"دو لایه صاف","kind":"raw","epoch":22,"loss":1.78},{"run":"دو لایه صاف","kind":"raw","epoch":25,"loss":1.76},{"run":"دو لایه صاف","kind":"raw","epoch":28,"loss":1.7},{"run":"دو لایه صاف","kind":"raw","epoch":30,"loss":1.9},{"run":"دو لایه صاف","kind":"raw","epoch":31,"loss":1.92},
{"run":"دو لایه هرمی","kind":"smooth","epoch":0,"loss":1.82},{"run":"دو لایه هرمی","kind":"smooth","epoch":1,"loss":1.58},{"run":"دو لایه هرمی","kind":"smooth","epoch":2,"loss":1.47},{"run":"دو لایه هرمی","kind":"smooth","epoch":3,"loss":1.39},{"run":"دو لایه هرمی","kind":"smooth","epoch":4,"loss":1.35},{"run":"دو لایه هرمی","kind":"smooth","epoch":5,"loss":1.32},{"run":"دو لایه هرمی","kind":"smooth","epoch":6,"loss":1.3},{"run":"دو لایه هرمی","kind":"smooth","epoch":7,"loss":1.28},{"run":"دو لایه هرمی","kind":"smooth","epoch":8,"loss":1.27},{"run":"دو لایه هرمی","kind":"smooth","epoch":9,"loss":1.45},{"run":"دو لایه هرمی","kind":"smooth","epoch":10,"loss":1.56},{"run":"دو لایه هرمی","kind":"smooth","epoch":11,"loss":1.62},{"run":"دو لایه هرمی","kind":"smooth","epoch":12,"loss":1.67},{"run":"دو لایه هرمی","kind":"smooth","epoch":13,"loss":1.71},{"run":"دو لایه هرمی","kind":"smooth","epoch":14,"loss":1.74},{"run":"دو لایه هرمی","kind":"smooth","epoch":15,"loss":1.76},{"run":"دو لایه هرمی","kind":"smooth","epoch":16,"loss":1.77},{"run":"دو لایه هرمی","kind":"smooth","epoch":17,"loss":1.79},{"run":"دو لایه هرمی","kind":"smooth","epoch":18,"loss":1.78},{"run":"دو لایه هرمی","kind":"smooth","epoch":19,"loss":1.8},{"run":"دو لایه هرمی","kind":"smooth","epoch":20,"loss":1.81},{"run":"دو لایه هرمی","kind":"smooth","epoch":21,"loss":1.8},{"run":"دو لایه هرمی","kind":"smooth","epoch":22,"loss":1.79},{"run":"دو لایه هرمی","kind":"smooth","epoch":23,"loss":1.77},{"run":"دو لایه هرمی","kind":"smooth","epoch":24,"loss":1.76},{"run":"دو لایه هرمی","kind":"smooth","epoch":25,"loss":1.73},{"run":"دو لایه هرمی","kind":"smooth","epoch":26,"loss":1.74},{"run":"دو لایه هرمی","kind":"smooth","epoch":27,"loss":1.76},{"run":"دو لایه هرمی","kind":"smooth","epoch":28,"loss":1.78},{"run":"دو لایه هرمی","kind":"smooth","epoch":29,"loss":1.8},{"run":"دو لایه هرمی","kind":"smooth","epoch":30,"loss":1.83},{"run":"دو لایه هرمی","kind":"smooth","epoch":31,"loss":1.84},
{"run":"دو لایه هرمی","kind":"raw","epoch":7,"loss":1.25},{"run":"دو لایه هرمی","kind":"raw","epoch":8,"loss":1.3},{"run":"دو لایه هرمی","kind":"raw","epoch":9,"loss":1.68},{"run":"دو لایه هرمی","kind":"raw","epoch":10,"loss":1.72},{"run":"دو لایه هرمی","kind":"raw","epoch":11,"loss":1.7},{"run":"دو لایه هرمی","kind":"raw","epoch":12,"loss":1.78},{"run":"دو لایه هرمی","kind":"raw","epoch":13,"loss":1.8},{"run":"دو لایه هرمی","kind":"raw","epoch":14,"loss":1.85},{"run":"دو لایه هرمی","kind":"raw","epoch":15,"loss":1.98},{"run":"دو لایه هرمی","kind":"raw","epoch":16,"loss":1.7},{"run":"دو لایه هرمی","kind":"raw","epoch":17,"loss":1.75},{"run":"دو لایه هرمی","kind":"raw","epoch":18,"loss":1.8},{"run":"دو لایه هرمی","kind":"raw","epoch":20,"loss":1.82},{"run":"دو لایه هرمی","kind":"raw","epoch":22,"loss":1.85},{"run":"دو لایه هرمی","kind":"raw","epoch":24,"loss":1.7},{"run":"دو لایه هرمی","kind":"raw","epoch":26,"loss":1.8},{"run":"دو لایه هرمی","kind":"raw","epoch":28,"loss":1.85},{"run":"دو لایه هرمی","kind":"raw","epoch":30,"loss":1.9},{"run":"دو لایه هرمی","kind":"raw","epoch":31,"loss":1.85}
],
"rnnL": [
{"run":"چهارلایه هرمی","kind":"smooth","epoch":0,"loss":2.0},{"run":"چهارلایه هرمی","kind":"smooth","epoch":1,"loss":1.84},{"run":"چهارلایه هرمی","kind":"smooth","epoch":2,"loss":1.75},{"run":"چهارلایه هرمی","kind":"smooth","epoch":3,"loss":1.67},{"run":"چهارلایه هرمی","kind":"smooth","epoch":4,"loss":1.6},{"run":"چهارلایه هرمی","kind":"smooth","epoch":5,"loss":1.56},{"run":"چهارلایه هرمی","kind":"smooth","epoch":6,"loss":1.545},{"run":"چهارلایه هرمی","kind":"smooth","epoch":7,"loss":1.52},{"run":"چهارلایه هرمی","kind":"smooth","epoch":8,"loss":1.51},{"run":"چهارلایه هرمی","kind":"smooth","epoch":9,"loss":1.51},{"run":"چهارلایه هرمی","kind":"smooth","epoch":10,"loss":1.53},{"run":"چهارلایه هرمی","kind":"smooth","epoch":11,"loss":1.74},{"run":"چهارلایه هرمی","kind":"smooth","epoch":12,"loss":1.97},{"run":"چهارلایه هرمی","kind":"smooth","epoch":13,"loss":2.13},{"run":"چهارلایه هرمی","kind":"smooth","epoch":14,"loss":2.19},{"run":"چهارلایه هرمی","kind":"smooth","epoch":15,"loss":2.23},
{"run":"چهارلایه هرمی","kind":"raw","epoch":0,"loss":1.97},{"run":"چهارلایه هرمی","kind":"raw","epoch":1,"loss":1.74},{"run":"چهارلایه هرمی","kind":"raw","epoch":2,"loss":1.66},{"run":"چهارلایه هرمی","kind":"raw","epoch":3,"loss":1.58},{"run":"چهارلایه هرمی","kind":"raw","epoch":4,"loss":1.54},{"run":"چهارلایه هرمی","kind":"raw","epoch":5,"loss":1.52},{"run":"چهارلایه هرمی","kind":"raw","epoch":6,"loss":1.5},{"run":"چهارلایه هرمی","kind":"raw","epoch":7,"loss":1.48},{"run":"چهارلایه هرمی","kind":"raw","epoch":8,"loss":1.5},{"run":"چهارلایه هرمی","kind":"raw","epoch":9,"loss":1.52},{"run":"چهارلایه هرمی","kind":"raw","epoch":10,"loss":1.8},{"run":"چهارلایه هرمی","kind":"raw","epoch":11,"loss":2.3},
{"run":"چهارلایه صاف","kind":"smooth","epoch":0,"loss":1.45},{"run":"چهارلایه صاف","kind":"smooth","epoch":1,"loss":1.37},{"run":"چهارلایه صاف","kind":"smooth","epoch":2,"loss":1.32},{"run":"چهارلایه صاف","kind":"smooth","epoch":3,"loss":1.28},{"run":"چهارلایه صاف","kind":"smooth","epoch":4,"loss":1.26},{"run":"چهارلایه صاف","kind":"smooth","epoch":5,"loss":1.255},{"run":"چهارلایه صاف","kind":"smooth","epoch":6,"loss":1.26},{"run":"چهارلایه صاف","kind":"smooth","epoch":7,"loss":1.28},{"run":"چهارلایه صاف","kind":"smooth","epoch":8,"loss":1.33},{"run":"چهارلایه صاف","kind":"smooth","epoch":9,"loss":1.4},{"run":"چهارلایه صاف","kind":"smooth","epoch":10,"loss":1.55},{"run":"چهارلایه صاف","kind":"smooth","epoch":11,"loss":1.67},{"run":"چهارلایه صاف","kind":"smooth","epoch":12,"loss":1.76},{"run":"چهارلایه صاف","kind":"smooth","epoch":13,"loss":1.84},{"run":"چهارلایه صاف","kind":"smooth","epoch":14,"loss":1.89},{"run":"چهارلایه صاف","kind":"smooth","epoch":15,"loss":1.91},
{"run":"چهارلایه صاف","kind":"raw","epoch":6,"loss":1.25},{"run":"چهارلایه صاف","kind":"raw","epoch":7,"loss":1.3},{"run":"چهارلایه صاف","kind":"raw","epoch":8,"loss":1.38},{"run":"چهارلایه صاف","kind":"raw","epoch":9,"loss":1.55},{"run":"چهارلایه صاف","kind":"raw","epoch":10,"loss":1.8},{"run":"چهارلایه صاف","kind":"raw","epoch":11,"loss":1.86},{"run":"چهارلایه صاف","kind":"raw","epoch":12,"loss":1.92},{"run":"چهارلایه صاف","kind":"raw","epoch":13,"loss":1.97},{"run":"چهارلایه صاف","kind":"raw","epoch":14,"loss":1.94},{"run":"چهارلایه صاف","kind":"raw","epoch":15,"loss":1.92},
{"run":"دولایه هرمی","kind":"smooth","epoch":0,"loss":1.5},{"run":"دولایه هرمی","kind":"smooth","epoch":1,"loss":1.4},{"run":"دولایه هرمی","kind":"smooth","epoch":2,"loss":1.32},{"run":"دولایه هرمی","kind":"smooth","epoch":3,"loss":1.27},{"run":"دولایه هرمی","kind":"smooth","epoch":4,"loss":1.23},{"run":"دولایه هرمی","kind":"smooth","epoch":5,"loss":1.21},{"run":"دولایه هرمی","kind":"smooth","epoch":6,"loss":1.195},{"run":"دولایه هرمی","kind":"smooth","epoch":7,"loss":1.19},{"run":"دولایه هرمی","kind":"smooth","epoch":8,"loss":1.2},{"run":"دولایه هرمی","kind":"smooth","epoch":9,"loss":1.23},{"run":"دولایه هرمی","kind":"smooth","epoch":10,"loss":1.3},{"run":"دولایه هرمی","kind":"smooth","epoch":11,"loss":1.43},{"run":"دولایه هرمی","kind":"smooth","epoch":12,"loss":1.49},{"run":"دولایه هرمی","kind":"smooth","epoch":13,"loss":1.52},{"run":"دولایه هرمی","kind":"smooth","epoch":14,"loss":1.52},{"run":"دولایه هرمی","kind":"smooth","epoch":15,"loss":1.58},
{"run":"دولایه هرمی","kind":"raw","epoch":9,"loss":1.28},{"run":"دولایه هرمی","kind":"raw","epoch":10,"loss":1.4},{"run":"دولایه هرمی","kind":"raw","epoch":11,"loss":1.64},{"run":"دولایه هرمی","kind":"raw","epoch":12,"loss":1.6},{"run":"دولایه هرمی","kind":"raw","epoch":13,"loss":1.56},{"run":"دولایه هرمی","kind":"raw","epoch":14,"loss":1.54},{"run":"دولایه هرمی","kind":"raw","epoch":15,"loss":1.62},
{"run":"دولایه صاف","kind":"smooth","epoch":0,"loss":1.35},{"run":"دولایه صاف","kind":"smooth","epoch":1,"loss":1.24},{"run":"دولایه صاف","kind":"smooth","epoch":2,"loss":1.19},{"run":"دولایه صاف","kind":"smooth","epoch":3,"loss":1.15},{"run":"دولایه صاف","kind":"smooth","epoch":4,"loss":1.12},{"run":"دولایه صاف","kind":"smooth","epoch":5,"loss":1.095},{"run":"دولایه صاف","kind":"smooth","epoch":6,"loss":1.08},{"run":"دولایه صاف","kind":"smooth","epoch":7,"loss":1.07},{"run":"دولایه صاف","kind":"smooth","epoch":8,"loss":1.075},{"run":"دولایه صاف","kind":"smooth","epoch":9,"loss":1.1},{"run":"دولایه صاف","kind":"smooth","epoch":10,"loss":1.12},{"run":"دولایه صاف","kind":"smooth","epoch":11,"loss":1.16},{"run":"دولایه صاف","kind":"smooth","epoch":12,"loss":1.21},{"run":"دولایه صاف","kind":"smooth","epoch":13,"loss":1.28},{"run":"دولایه صاف","kind":"smooth","epoch":14,"loss":1.38},{"run":"دولایه صاف","kind":"smooth","epoch":15,"loss":1.49},
{"run":"دولایه صاف","kind":"raw","epoch":0,"loss":1.3},{"run":"دولایه صاف","kind":"raw","epoch":2,"loss":1.15},{"run":"دولایه صاف","kind":"raw","epoch":4,"loss":1.1},{"run":"دولایه صاف","kind":"raw","epoch":6,"loss":1.06},{"run":"دولایه صاف","kind":"raw","epoch":8,"loss":1.1},{"run":"دولایه صاف","kind":"raw","epoch":9,"loss":1.15},{"run":"دولایه صاف","kind":"raw","epoch":10,"loss":1.2},{"run":"دولایه صاف","kind":"raw","epoch":11,"loss":1.24},{"run":"دولایه صاف","kind":"raw","epoch":12,"loss":1.28},{"run":"دولایه صاف","kind":"raw","epoch":13,"loss":1.35},{"run":"دولایه صاف","kind":"raw","epoch":14,"loss":1.5},{"run":"دولایه صاف","kind":"raw","epoch":15,"loss":1.66},
{"run":"یک لایه","kind":"smooth","epoch":0,"loss":1.53},{"run":"یک لایه","kind":"smooth","epoch":1,"loss":1.38},{"run":"یک لایه","kind":"smooth","epoch":2,"loss":1.28},{"run":"یک لایه","kind":"smooth","epoch":3,"loss":1.2},{"run":"یک لایه","kind":"smooth","epoch":4,"loss":1.13},{"run":"یک لایه","kind":"smooth","epoch":5,"loss":1.08},{"run":"یک لایه","kind":"smooth","epoch":6,"loss":1.05},{"run":"یک لایه","kind":"smooth","epoch":7,"loss":1.03},{"run":"یک لایه","kind":"smooth","epoch":8,"loss":1.02},{"run":"یک لایه","kind":"smooth","epoch":9,"loss":1.01},{"run":"یک لایه","kind":"smooth","epoch":10,"loss":1.0},{"run":"یک لایه","kind":"smooth","epoch":11,"loss":0.995},{"run":"یک لایه","kind":"smooth","epoch":12,"loss":1.0},{"run":"یک لایه","kind":"smooth","epoch":13,"loss":1.005},{"run":"یک لایه","kind":"smooth","epoch":14,"loss":1.08},{"run":"یک لایه","kind":"smooth","epoch":15,"loss":1.08},
{"run":"یک لایه","kind":"raw","epoch":0,"loss":1.5},{"run":"یک لایه","kind":"raw","epoch":2,"loss":1.2},{"run":"یک لایه","kind":"raw","epoch":4,"loss":1.1},{"run":"یک لایه","kind":"raw","epoch":6,"loss":1.03},{"run":"یک لایه","kind":"raw","epoch":8,"loss":1.01},{"run":"یک لایه","kind":"raw","epoch":10,"loss":0.99},{"run":"یک لایه","kind":"raw","epoch":12,"loss":1.01},{"run":"یک لایه","kind":"raw","epoch":13,"loss":1.05},{"run":"یک لایه","kind":"raw","epoch":14,"loss":1.18},{"run":"یک لایه","kind":"raw","epoch":15,"loss":1.1}
]
},
"concat": [
{
"title": "پارامترهای زیاد",
"width": 300, "height": 192,
"data": {"name": "gruH"},
"encoding": {
"x": {"field": "epoch", "type": "quantitative", "scale": {"domain": [-5, 35], "nice": false, "zero": false},
 "axis": {"values": [-5,0,5,10,15,20,25,30,35], "labelExpr": "datum.value < 0 || datum.value > 30 ? '' : datum.label", "title": "\u202bد) شبکه عصبی GRU\u202c", "labelPadding": 5, "titlePadding": 12,
  "gridColor": {"condition": {"test": "datum.value === 0", "value": "#8f8f8f"}, "value": "#e4e4e4"}, "gridWidth": {"condition": {"test": "datum.value === 0", "value": 1.6}, "value": 1}}},
"y": {"field": "loss", "type": "quantitative", "scale": {"domain": [-0.26, 2.2], "nice": false, "zero": false},
 "axis": {"values": [-0.2,0,0.2,0.4,0.6,0.8,1,1.2,1.4,1.6,1.8,2,2.2], "format": "~g", "labelExpr": "datum.value >= 0 && datum.value <= 2.05 && round(datum.value*10) % 4 == 0 ? datum.label : ''", "title": "Loss / Epoch", "titleY": 193,
  "gridColor": {"condition": {"test": "datum.value === 0", "value": "#8f8f8f"}, "value": "#e4e4e4"}, "gridWidth": {"condition": {"test": "datum.value === 0", "value": 1.6}, "value": 1}}},
"color": {"field": "run", "type": "nominal",
 "scale": {"domain": ["چهار لایه هرمی","چهار لایه صاف","دو لایه هرمی","یک لایه","دولایه صاف"], "range": ["#48b3d8","#236c92","#b84a38","#d8417c","#ea8452"]},
 "legend": {"orient": "none", "legendX": 307, "legendY": 72, "rowPadding": 6.5,
  "encode": {"labels": {"update": {"fill": {"signal": "datum.value === 'چهار لایه هرمی' ? '#48b3d8' : datum.value === 'چهار لایه صاف' ? '#236c92' : datum.value === 'دو لایه هرمی' ? '#b84a38' : datum.value === 'یک لایه' ? '#d8417c' : '#ea8452'"}}}}}}
},
"layer": [
{"transform": [{"filter": "datum.kind == 'raw'"}], "mark": {"type": "line", "clip": true, "strokeWidth": 1.5, "opacity": 0.28, "interpolate": "monotone"}},
{"transform": [{"filter": "datum.kind == 'smooth'"}], "mark": {"type": "line", "clip": true, "strokeWidth": 2, "interpolate": "monotone"}},
{"transform": [{"filter": "datum.kind == 'smooth' && datum.epoch == 31"}], "mark": {"type": "circle", "clip": true, "size": 60, "opacity": 1}}
]
},
{
"title": "پارامترهای کم",
"width": 300, "height": 192,
"data": {"name": "gruL"},
"encoding": {
"x": {"field": "epoch", "type": "quantitative", "scale": {"domain": [-2, 16], "nice": false, "zero": false},
 "axis": {"values": [-2,0,2,4,6,8,10,12,14,16], "labelExpr": "datum.value < 0 || datum.value > 14 ? '' : datum.label", "title": "\u202bالف) شبکه عصبی GRU\u202c", "labelPadding": 5, "titlePadding": 12,
  "gridColor": {"condition": {"test": "datum.value === 0", "value": "#8f8f8f"}, "value": "#e4e4e4"}, "gridWidth": {"condition": {"test": "datum.value === 0", "value": 1.6}, "value": 1}}},
"y": {"field": "loss", "type": "quantitative", "scale": {"domain": [-0.26, 2.0], "nice": false, "zero": false},
 "axis": {"values": [-0.2,0,0.2,0.4,0.6,0.8,1,1.2,1.4,1.6,1.8,2], "format": "~g", "labelExpr": "datum.value >= 0 && datum.value <= 1.65 && round(datum.value*10) % 4 == 0 ? datum.label : ''", "title": "Loss / Epoch", "titleY": 193,
  "gridColor": {"condition": {"test": "datum.value === 0", "value": "#8f8f8f"}, "value": "#e4e4e4"}, "gridWidth": {"condition": {"test": "datum.value === 0", "value": 1.6}, "value": 1}}},
"color": {"field": "run", "type": "nominal",
 "scale": {"domain": ["چهار لایه هرمی","چهارلایه صاف","دو لایه هرمی","دو لایه صاف","یک لایه"], "range": ["#d8417c","#48b3d8","#b84a38","#236c92","#ea8452"]},
 "legend": {"orient": "none", "legendX": 299, "legendY": 79, "rowPadding": 6,
  "encode": {"labels": {"update": {"fill": {"signal": "datum.value === 'چهار لایه هرمی' ? '#d8417c' : datum.value === 'چهارلایه صاف' ? '#48b3d8' : datum.value === 'دو لایه هرمی' ? '#b84a38' : datum.value === 'دو لایه صاف' ? '#236c92' : '#ea8452'"}}}}}}
},
"layer": [
{"transform": [{"filter": "datum.kind == 'raw'"}], "mark": {"type": "line", "clip": true, "strokeWidth": 1.5, "opacity": 0.28, "interpolate": "monotone"}},
{"transform": [{"filter": "datum.kind == 'smooth'"}], "mark": {"type": "line", "clip": true, "strokeWidth": 2, "interpolate": "monotone"}},
{"transform": [{"filter": "datum.kind == 'smooth' && datum.epoch == 15"}], "mark": {"type": "circle", "clip": true, "size": 60, "opacity": 1}}
]
},
{
"width": 300, "height": 195,
"data": {"name": "lstmH"},
"encoding": {
"x": {"field": "epoch", "type": "quantitative", "scale": {"domain": [-5, 35], "nice": false, "zero": false},
 "axis": {"values": [-5,0,5,10,15,20,25,30,35], "labelExpr": "datum.value < 0 || datum.value > 30 ? '' : datum.label", "title": "\u202bه) شبکه عصبی LSTM\u202c", "labelPadding": 8, "titlePadding": 8,
  "gridColor": {"condition": {"test": "datum.value === 0", "value": "#8f8f8f"}, "value": "#e4e4e4"}, "gridWidth": {"condition": {"test": "datum.value === 0", "value": 1.6}, "value": 1}}},
"y": {"field": "loss", "type": "quantitative", "scale": {"domain": [-0.5, 3.5], "nice": false, "zero": false},
 "axis": {"values": [-0.5,0,0.5,1,1.5,2,2.5,3,3.5], "format": "~g", "labelExpr": "datum.value >= 0 && datum.value <= 3 && datum.value % 1 === 0 ? datum.label : ''", "title": "Loss / Epoch", "titleY": 196,
  "gridColor": {"condition": {"test": "datum.value === 0", "value": "#8f8f8f"}, "value": "#e4e4e4"}, "gridWidth": {"condition": {"test": "datum.value === 0", "value": 1.6}, "value": 1}}},
"color": {"field": "run", "type": "nominal",
 "scale": {"domain": ["چهار لایه هرمی","چهارلایه صاف","دو لایه هرمی","یک لایه","دو لایه صاف"], "range": ["#d8417c","#b84a38","#48b3d8","#ea8452","#236c92"]},
 "legend": {"orient": "none", "legendX": 307, "legendY": 91, "rowPadding": 5.5,
  "encode": {"labels": {"update": {"fill": {"signal": "datum.value === 'چهار لایه هرمی' ? '#d8417c' : datum.value === 'چهارلایه صاف' ? '#b84a38' : datum.value === 'دو لایه هرمی' ? '#48b3d8' : datum.value === 'یک لایه' ? '#ea8452' : '#236c92'"}}}}}}
},
"layer": [
{"transform": [{"filter": "datum.kind == 'raw'"}], "mark": {"type": "line", "clip": true, "strokeWidth": 1.5, "opacity": 0.28, "interpolate": "monotone"}},
{"transform": [{"filter": "datum.kind == 'smooth'"}], "mark": {"type": "line", "clip": true, "strokeWidth": 2, "interpolate": "monotone"}},
{"transform": [{"filter": "datum.kind == 'smooth' && datum.epoch == 31"}], "mark": {"type": "circle", "clip": true, "size": 60, "opacity": 1}}
]
},
{
"width": 300, "height": 195,
"data": {"name": "lstmL"},
"encoding": {
"x": {"field": "epoch", "type": "quantitative", "scale": {"domain": [-2, 16], "nice": false, "zero": false},
 "axis": {"values": [-2,0,2,4,6,8,10,12,14,16], "labelExpr": "datum.value < 0 || datum.value > 14 ? '' : datum.label", "title": "\u202bب) شبکه عصبی LSTM\u202c", "labelPadding": 8, "titlePadding": 8,
  "gridColor": {"condition": {"test": "datum.value === 0", "value": "#8f8f8f"}, "value": "#e4e4e4"}, "gridWidth": {"condition": {"test": "datum.value === 0", "value": 1.6}, "value": 1}}},
"y": {"field": "loss", "type": "quantitative", "scale": {"domain": [-0.6, 3.0], "nice": false, "zero": false},
 "axis": {"values": [-0.5,-0.25,0,0.25,0.5,0.75,1,1.25,1.5,1.75,2,2.25,2.5,2.75,3], "format": "~g", "labelExpr": "datum.value >= 0 && datum.value <= 2.5 && (datum.value*2) % 1 === 0 ? datum.label : ''", "title": "Loss / Epoch", "titleY": 196,
  "gridColor": {"condition": {"test": "datum.value === 0", "value": "#8f8f8f"}, "value": "#e4e4e4"}, "gridWidth": {"condition": {"test": "datum.value === 0", "value": 1.6}, "value": 1}}},
"color": {"field": "run", "type": "nominal",
 "scale": {"domain": ["چهارلایه هرمی","چهارلایه صاف","دولایه هرمی","یک لایه","دولایه صاف"], "range": ["#d8417c","#48b3d8","#b84a38","#ea8452","#236c92"]},
 "legend": {"orient": "none", "legendX": 299, "legendY": 80, "rowPadding": 7,
  "encode": {"labels": {"update": {"fill": {"signal": "datum.value === 'چهارلایه هرمی' ? '#d8417c' : datum.value === 'چهارلایه صاف' ? '#48b3d8' : datum.value === 'دولایه هرمی' ? '#b84a38' : datum.value === 'یک لایه' ? '#ea8452' : '#236c92'"}}}}}}
},
"layer": [
{"transform": [{"filter": "datum.kind == 'raw'"}], "mark": {"type": "line", "clip": true, "strokeWidth": 1.5, "opacity": 0.28, "interpolate": "monotone"}},
{"transform": [{"filter": "datum.kind == 'smooth'"}], "mark": {"type": "line", "clip": true, "strokeWidth": 2, "interpolate": "monotone"}},
{"transform": [{"filter": "datum.kind == 'smooth' && datum.epoch == 15"}], "mark": {"type": "circle", "clip": true, "size": 60, "opacity": 1}}
]
},
{
"width": 300, "height": 190,
"data": {"name": "rnnH"},
"encoding": {
"x": {"field": "epoch", "type": "quantitative", "scale": {"domain": [-5, 35], "nice": false, "zero": false},
 "axis": {"values": [-5,0,5,10,15,20,25,30,35], "labelExpr": "datum.value < 0 || datum.value > 30 ? '' : datum.label", "title": "\u202bخ) شبکه عصبی RNN\u202c", "labelPadding": 10, "titlePadding": 12,
  "gridColor": {"condition": {"test": "datum.value === 0", "value": "#8f8f8f"}, "value": "#e4e4e4"}, "gridWidth": {"condition": {"test": "datum.value === 0", "value": 1.6}, "value": 1}}},
"y": {"field": "loss", "type": "quantitative", "scale": {"domain": [0.8, 2.4], "nice": false, "zero": false},
 "axis": {"values": [0.8,1,1.2,1.4,1.6,1.8,2,2.2,2.4], "format": "~g", "labelExpr": "indexof([10,14,18,22], round(datum.value*10)) >= 0 ? datum.label : ''", "title": "Loss / Epoch", "titleY": 193,
  "gridColor": "#e4e4e4"}},
"color": {"field": "run", "type": "nominal",
 "scale": {"domain": ["چهار لایه صاف","یک لایه","چهار لایه هرمی","دو لایه صاف","دو لایه هرمی"], "range": ["#48b3d8","#ea8452","#d8417c","#236c92","#b84a38"]},
 "legend": {"orient": "none", "legendX": 311, "legendY": 12, "rowPadding": 8,
  "encode": {"labels": {"update": {"fill": {"signal": "datum.value === 'چهار لایه صاف' ? '#48b3d8' : datum.value === 'یک لایه' ? '#ea8452' : datum.value === 'چهار لایه هرمی' ? '#d8417c' : datum.value === 'دو لایه صاف' ? '#236c92' : '#b84a38'"}}}}}}
},
"layer": [
{"transform": [{"filter": "datum.kind == 'raw'"}], "mark": {"type": "line", "clip": true, "strokeWidth": 1.5, "opacity": 0.28}},
{"transform": [{"filter": "datum.kind == 'smooth'"}], "mark": {"type": "line", "clip": true, "strokeWidth": 2}},
{"transform": [{"filter": "datum.kind == 'smooth' && datum.epoch == 31"}], "mark": {"type": "circle", "clip": true, "size": 60, "opacity": 1}}
]
},
{
"width": 300, "height": 190,
"data": {"name": "rnnL"},
"encoding": {
"x": {"field": "epoch", "type": "quantitative", "scale": {"domain": [-2, 16], "nice": false, "zero": false},
 "axis": {"values": [-2,0,2,4,6,8,10,12,14,16], "labelExpr": "datum.value < 0 || datum.value > 14 ? '' : datum.label", "title": "\u202bج) شبکه عصبی RNN\u202c", "labelPadding": 10, "titlePadding": 12,
  "gridColor": {"condition": {"test": "datum.value === 0", "value": "#8f8f8f"}, "value": "#e4e4e4"}, "gridWidth": {"condition": {"test": "datum.value === 0", "value": 1.6}, "value": 1}}},
"y": {"field": "loss", "type": "quantitative", "scale": {"domain": [0.8, 2.2], "nice": false, "zero": false},
 "axis": {"values": [0.8,0.9,1,1.1,1.2,1.3,1.4,1.5,1.6,1.7,1.8,1.9,2,2.1,2.2], "format": "~g", "labelExpr": "round(datum.value*10) % 2 === 1 && datum.value < 2.15 ? datum.label : ''", "title": "Loss / Epoch", "titleY": 197,
  "gridColor": "#e4e4e4"}},
"color": {"field": "run", "type": "nominal",
 "scale": {"domain": ["چهارلایه هرمی","چهارلایه صاف","دولایه هرمی","دولایه صاف","یک لایه"], "range": ["#48b3d8","#d8417c","#b84a38","#236c92","#ea8452"]},
 "legend": {"orient": "none", "legendX": 304, "legendY": 12, "rowPadding": 24,
  "encode": {"labels": {"update": {"fill": {"signal": "datum.value === 'چهارلایه هرمی' ? '#48b3d8' : datum.value === 'چهارلایه صاف' ? '#d8417c' : datum.value === 'دولایه هرمی' ? '#b84a38' : datum.value === 'دولایه صاف' ? '#236c92' : '#ea8452'"}}}}}}
},
"layer": [
{"transform": [{"filter": "datum.kind == 'raw'"}], "mark": {"type": "line", "clip": true, "strokeWidth": 1.5, "opacity": 0.28, "interpolate": "monotone"}},
{"transform": [{"filter": "datum.kind == 'smooth'"}], "mark": {"type": "line", "clip": true, "strokeWidth": 2, "interpolate": "monotone"}},
{"transform": [{"filter": "datum.kind == 'smooth' && datum.epoch == 15"}], "mark": {"type": "circle", "clip": true, "size": 60, "opacity": 1}}
]
}
],
"config": {
"view": {"stroke": null},
"font": "DejaVu Sans",
"title": {"font": "DejaVu Sans", "fontSize": 15, "fontWeight": "bold", "color": "#111", "offset": 12},
"axis": {"domain": false, "ticks": false, "labelFont": "Liberation Sans", "labelFontSize": 11.5, "labelColor": "#505050", "gridColor": "#e4e4e4", "titleFont": "Liberation Serif", "titleFontWeight": "bold", "titleColor": "#111"},
"axisX": {"titleFontSize": 16},
"axisY": {"titleFontSize": 11, "titleAngle": 0, "titleAlign": "left", "titleBaseline": "bottom", "titleX": -36, "labelPadding": 9},
"legend": {"title": null, "symbolOpacity": 0, "symbolSize": 0, "symbolStrokeWidth": 0, "labelOffset": 0, "labelFont": "DejaVu Sans", "labelFontSize": 10.5, "labelLimit": 200}
}
}
